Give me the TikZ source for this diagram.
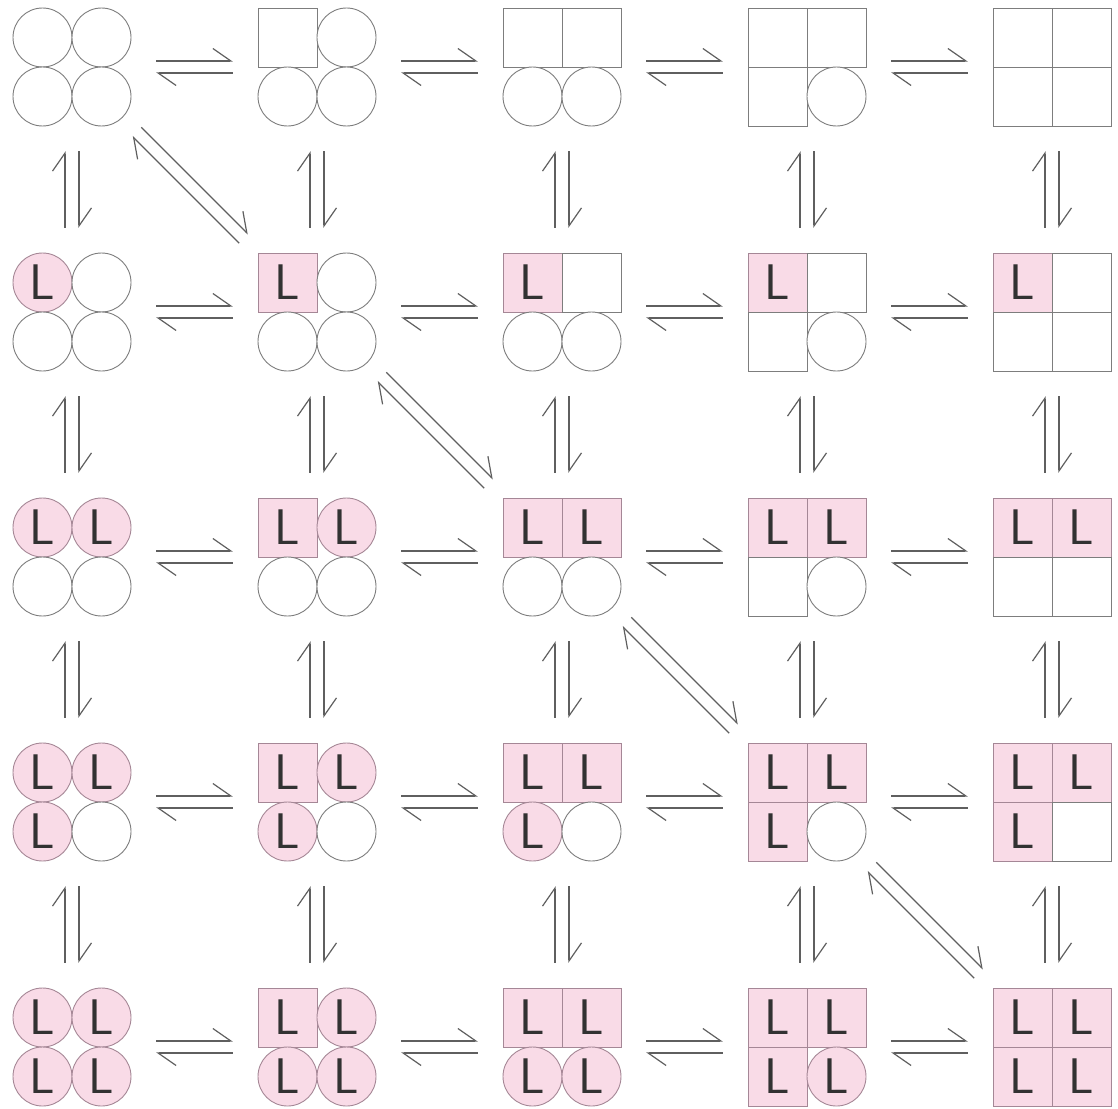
\documentclass[tikz,border=0pt]{standalone}
\usepackage{xcolor}
\usepackage{tikz}
\usetikzlibrary{arrows.meta}
\definecolor{ligpink}{RGB}{249,219,231}
\definecolor{ligedge}{RGB}{165,135,150}
\definecolor{freeedge}{RGB}{125,125,125}
\definecolor{arrowgray}{RGB}{95,95,95}
\definecolor{lettergray}{RGB}{50,50,50}

\begin{document}
\begin{tikzpicture}[
  x=1pt, y=-1pt,
  cell/.style={rectangle, inner sep=0pt, minimum size=118pt},
  sub/.style={inner sep=0pt, minimum size=59pt, line width=0.9pt, text=lettergray,
    font=\sffamily\fontsize{50}{50}\selectfont},
  harp/.style={-{Straight Barb[left, length=18pt, width=25pt]}, line width=1.2pt, draw=arrowgray,
    shorten <=25pt, shorten >=25pt}
]
\useasboundingbox (0,0) rectangle (1118,1108);

% states: column = subunits in the square form, row = ligands bound
\foreach \r in {0,...,4}{
  \foreach \c in {0,...,4}{
    \node[cell] (m\r\c) at (72+245*\c, 67+245*\r) {};
    \foreach \k/\dx/\dy in {0/-29.5/-29.5, 1/29.5/-29.5, 2/-29.5/29.5, 3/29.5/29.5}{
      \ifnum\k<\r\relax \def\lig{L}\def\fc{ligpink}\def\dc{ligedge}\else \def\lig{}\def\fc{white}\def\dc{freeedge}\fi
      \ifnum\k<\c\relax \def\shp{rectangle}\else \def\shp{circle}\fi
      \node[sub, shape=\shp, fill=\fc, draw=\dc] (m\r\c\k) at ([shift={(\dx,\dy)}]m\r\c.center) {\lig};
    }
  }
}

% horizontal equilibria
\foreach \r in {0,...,4}{
  \foreach \c [evaluate=\c as \cc using int(\c+1)] in {0,...,3}{
    \draw[harp] ([yshift=6pt]m\r\c.east) -- ([yshift=6pt]m\r\cc.west);
    \draw[harp] ([yshift=-6pt]m\r\cc.west) -- ([yshift=-6pt]m\r\c.east);
  }
}

% vertical equilibria
\foreach \c in {0,...,4}{
  \foreach \r [evaluate=\r as \rr using int(\r+1)] in {0,...,3}{
    \draw[harp] ([xshift=-7pt]m\rr\c.north) -- ([xshift=-7pt]m\r\c.south);
    \draw[harp] ([xshift=7pt]m\r\c.south) -- ([xshift=7pt]m\rr\c.north);
  }
}

% diagonal equilibria
\foreach \i [evaluate=\i as \j using int(\i+1)] in {0,...,3}{
  \draw[harp, shorten <=8pt, shorten >=20pt] ([shift={(4.5pt,4.5pt)}]m\i\i.south east) -- ([shift={(4.5pt,4.5pt)}]m\j\j.north west);
  \draw[harp, shorten <=20pt, shorten >=8pt] ([shift={(-4.5pt,-4.5pt)}]m\j\j.north west) -- ([shift={(-4.5pt,-4.5pt)}]m\i\i.south east);
}
\end{tikzpicture}
\end{document}
